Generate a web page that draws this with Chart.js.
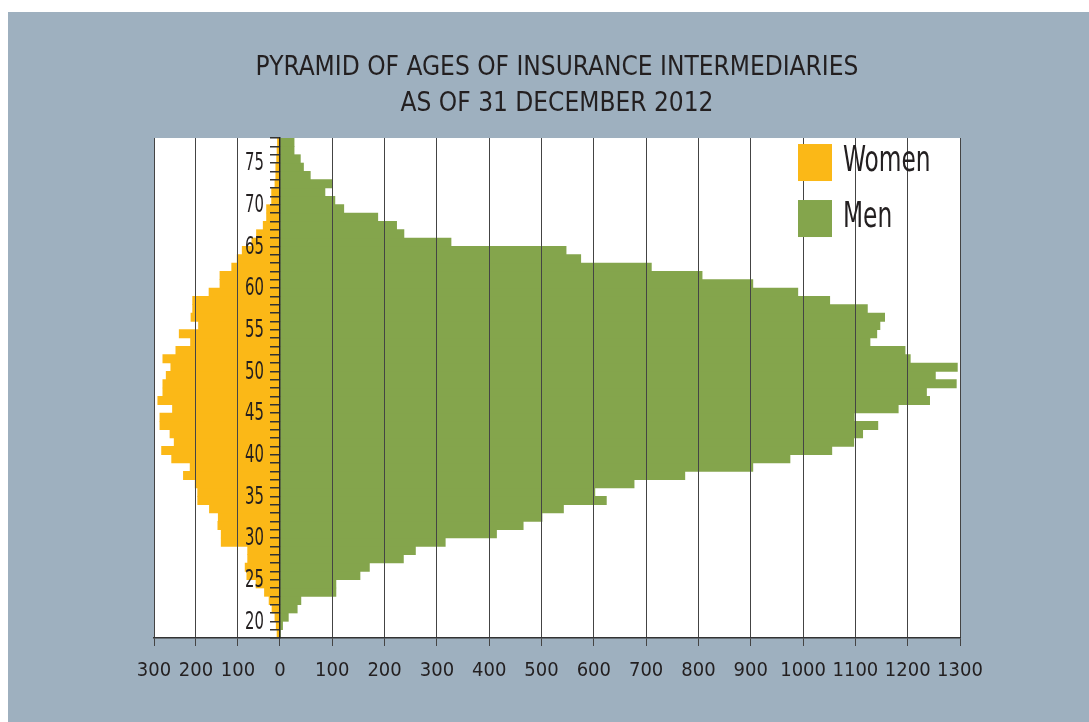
<!DOCTYPE html>
<html>
<head>
<meta charset="utf-8">
<script src="https://cdn.jsdelivr.net/npm/chart.js@4.4.1/dist/chart.umd.min.js"></script>
<style>
  html, body { margin: 0; padding: 0; background: #fff; }
</style>
</head>
<body>
<canvas id="canvas" width="1089" height="722"></canvas>
<script>
// ages, bottom to top
const ages = [18, 19, 20, 21, 22, 23, 24, 25, 26, 27, 28, 29, 30, 31, 32, 33, 34, 35, 36, 37,
              38, 39, 40, 41, 42, 43, 44, 45, 46, 47, 48, 49, 50, 51, 52, 53, 54, 55, 56, 57,
              58, 59, 60, 61, 62, 63, 64, 65, 66, 67, 68, 69, 70, 71, 72, 73, 74, 75, 76, 77];

const women = [7, 9, 12, 19, 26, 37, 57, 79, 83, 77, 77, 140, 140, 148, 147, 168, 196, 196, 202, 230,
               214, 258, 282, 252, 262, 286, 286, 256, 291, 279, 279, 271, 260, 279, 248, 213, 240, 194, 212, 208,
               208, 169, 143, 143, 115, 102, 90, 67, 56, 40, 32, 32, 20, 20, 12, 10, 10, 8, 7, 6];

const men = [1, 5, 16, 33, 40, 107, 107, 153, 171, 236, 259, 316, 414, 465, 501, 542, 624, 602, 677, 774,
             904, 975, 1055, 1097, 1114, 1143, 1098, 1182, 1242, 1236, 1293, 1253, 1295, 1205, 1195, 1128, 1141, 1147, 1156, 1123,
             1051, 990, 904, 807, 710, 575, 547, 327, 237, 223, 187, 122, 105, 86, 99, 58, 45, 39, 27, 27];

const xTicks = [-300, -200, -100, 0, 100, 200, 300, 400, 500, 600, 700, 800, 900, 1000, 1100, 1200, 1300];

const FONT = "'DejaVu Sans Condensed', 'Liberation Sans', sans-serif";
const TEXT = '#231f20';
const YELLOW = '#fbb817';
const GREEN = '#84a54c';

// women side of the axis is drawn at a smaller unit than the men side
const NEG_SHARE = 0.1563;

class SplitLinearScale extends Chart.LinearScale {
  getPixelForValue(value) {
    if (value === null || value === undefined || isNaN(value)) return NaN;
    let dec;
    if (value < 0) dec = NEG_SHARE * (value - this.min) / (0 - this.min);
    else dec = NEG_SHARE + (1 - NEG_SHARE) * value / this.max;
    return this.getPixelForDecimal(dec);
  }
  getValueForPixel(pixel) {
    const dec = this.getDecimalForPixel(pixel);
    if (dec < NEG_SHARE) return this.min + dec / NEG_SHARE * (0 - this.min);
    return (dec - NEG_SHARE) / (1 - NEG_SHARE) * this.max;
  }
}
SplitLinearScale.id = 'splitLinear';
SplitLinearScale.defaults = Chart.LinearScale.defaults;
Chart.register(SplitLinearScale);

// narrow text helper (the original uses a condensed face)
function narrowText(c, text, x, y, size, squeeze, align) {
  c.save();
  c.translate(x, y);
  c.scale(squeeze, 1);
  c.font = size + 'px ' + FONT;
  c.fillStyle = TEXT;
  c.textAlign = align;
  c.textBaseline = 'middle';
  c.fillText(text, 0, 0);
  c.restore();
}

const backdrop = {
  id: 'backdrop',
  beforeDraw(chart) {
    const { ctx, width, height, chartArea: a } = chart;
    ctx.save();
    ctx.fillStyle = '#ffffff';
    ctx.fillRect(0, 0, width, height);
    ctx.fillStyle = '#9eb0bf';
    ctx.fillRect(8, 12, width - 8, height - 12);
    ctx.fillStyle = '#ffffff';
    ctx.fillRect(a.left, a.top, a.right - a.left, a.bottom - a.top);
    ctx.restore();
  }
};

// age labels sit left of the zero line, inside the plot
const ageLabels = {
  id: 'ageLabels',
  afterDatasetsDraw(chart) {
    const ys = chart.scales.y;
    const x0 = chart.scales.x.getPixelForValue(0);
    ys.ticks.forEach((t, i) => {
      if (!t.label) return;
      narrowText(chart.ctx, t.label, x0 - 16, ys.getPixelForTick(i) + 5, 25, 0.66, 'right');
    });
  }
};

const boxLegend = {
  id: 'boxLegend',
  afterDraw(chart) {
    const { ctx, chartArea: a } = chart;
    chart.data.datasets.forEach((ds, i) => {
      const x = a.right - 162;
      const y = a.top + 6 + i * 56;
      ctx.fillStyle = ds.backgroundColor;
      ctx.fillRect(x, y, 34, 37);
      narrowText(ctx, ds.label, x + 45, y + 18, 36, 0.72, 'left');
    });
  }
};

const ctx = document.getElementById('canvas').getContext('2d');
const myChart = new Chart(ctx, {
  type: 'bar',
  data: {
    labels: ages,
    datasets: [
      {
        label: 'Women',
        data: women.map(v => -v),
        backgroundColor: YELLOW,
        grouped: false,
        barPercentage: 1,
        categoryPercentage: 1
      },
      {
        label: 'Men',
        data: men,
        backgroundColor: GREEN,
        grouped: false,
        barPercentage: 1,
        categoryPercentage: 1
      }
    ]
  },
  options: {
    indexAxis: 'y',
    responsive: false,
    animation: false,
    layout: { padding: { top: 50, left: 154, right: 129, bottom: 26 } },
    plugins: {
      legend: { display: false },
      tooltip: { enabled: false },
      title: {
        display: true,
        text: ['PYRAMID OF AGES OF INSURANCE INTERMEDIARIES', 'AS OF 31 DECEMBER 2012'],
        color: TEXT,
        font: { family: FONT, size: 26, weight: 'normal', lineHeight: 1.385 },
        padding: { top: 0, bottom: 16 }
      }
    },
    scales: {
      x: {
        type: 'splitLinear',
        min: -300,
        max: 1300,
        afterBuildTicks: s => { s.ticks = xTicks.map(v => ({ value: v })); },
        ticks: {
          autoSkip: false,
          maxRotation: 0,
          padding: 13,
          z: 1,
          color: TEXT,
          font: { family: FONT, size: 20 },
          callback: v => String(Math.abs(v))
        },
        grid: { color: '#444', lineWidth: 1, tickLength: 8, tickColor: '#444', z: 1 },
        border: { display: true, color: '#333', width: 1.5, z: 1 }
      },
      y: {
        type: 'category',
        reverse: true,
        position: { x: 0 },
        ticks: {
          display: false,
          autoSkip: false,
          callback: function (val, i) { return ages[i] % 5 === 0 ? String(ages[i]) : ''; }
        },
        grid: { display: true, drawOnChartArea: false, offset: true, tickLength: 9, tickColor: '#333', lineWidth: 1.5, z: 1 },
        border: { display: true, color: '#222', width: 1.5, z: 1 }
      }
    }
  },
  plugins: [backdrop, ageLabels, boxLegend]
});
</script>
</body>
</html>
